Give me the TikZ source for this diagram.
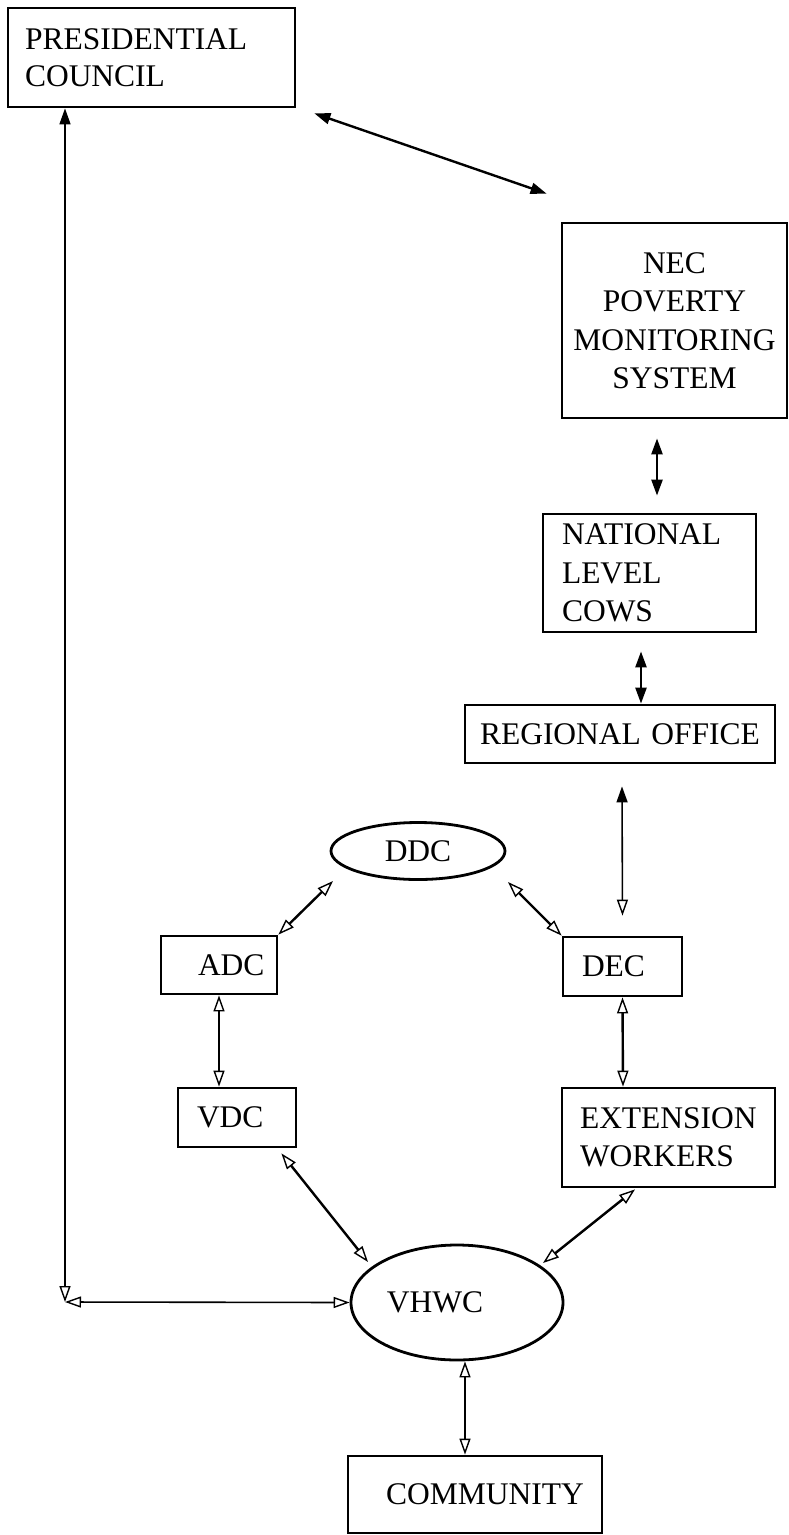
\documentclass[tikz,border=0pt]{standalone}
\usepackage{fontspec}
\setmainfont{Liberation Serif}
\usetikzlibrary{arrows.meta,shapes.geometric,calc}
\tikzset{
  box/.style={draw=black, line width=2.8pt, rectangle, inner ysep=0pt,
    font=\fontsize{31.5}{38.5}\selectfont},
  oval/.style={draw=black, line width=2.8pt, ellipse, inner sep=0pt,
    font=\fontsize{31.5}{38.5}\selectfont},
  dk/.tip={Triangle[length=16pt,width=11pt]},
  op/.tip={Triangle[open,length=16pt,width=11pt,line width=1.4pt]},
  link/.style={draw=black, line width=2.4pt},
  thin link/.style={draw=black, line width=1.6pt},
}
\begin{document}
\begin{tikzpicture}[x=1pt,y=-1pt]
\useasboundingbox (0,0) rectangle (789,1535);
% nodes
\node[box, minimum width=287pt, minimum height=99pt, text width=253pt, inner xsep=17pt, align=left] (pc) at (151.5,57.5) {PRESIDENTIAL\\[-1pt]COUNCIL};
\node[box, minimum width=225pt, minimum height=195pt, text width=219pt, inner xsep=3pt, align=center] (nec) at (674.5,320.5) {NEC\\POVERTY\\MONITORING\\SYSTEM};
\node[box, minimum width=213pt, minimum height=118pt, text width=175pt, inner xsep=19pt, align=left] (nat) at (649.5,573) {NATIONAL\\LEVEL\\COWS};
\node[box, minimum width=310pt, minimum height=58pt, text width=304pt, inner xsep=3pt, align=center] (reg) at (620,734) {REGIONAL OFFICE};
\node[oval, minimum width=174pt, minimum height=57pt] (ddc) at (418,851) {DDC};
\node[box, minimum width=119pt, minimum height=59pt, text width=81pt, inner xsep=19pt, align=left] (dec) at (622.5,966.5) {DEC};
\node[box, minimum width=116pt, minimum height=58pt, text width=42pt, inner xsep=37pt, align=left] (adc) at (219,965) {ADC};
\node[box, minimum width=118pt, minimum height=59pt, text width=80pt, inner xsep=19pt, align=left] (vdc) at (237,1117.5) {VDC};
\node[box, minimum width=213pt, minimum height=99pt, text width=177pt, inner xsep=18pt, align=left] (ext) at (668.5,1137.5) {EXTENSION\\WORKERS};
\node[oval, minimum width=212pt, minimum height=115pt] (vhwc) at (457,1302.5) {\hbox{VHWC\kern44pt}};
\node[box, minimum width=254pt, minimum height=77pt, text width=240pt, inner xsep=7pt, align=center] (comm) at (475,1494.5) {\hspace{20pt}COMMUNITY};
\coordinate (corner) at (65,1302);
% connectors
\draw[link, dk-dk] ($(pc.south east)+(18,5)$) -- ($(nec.north west)+(-14,-28)$);
\draw[link, dk-dk] ($(nec.south)+(-17.5,19)$) -- ($(nat.north)+(7.5,-17)$);
\draw[link, dk-dk] ($(nat.south)+(-8.5,18)$) -- ($(reg.north)+(21,0)$);
\draw[thin link, dk-op] ($(reg.south)+(2,22)$) -- ($(dec.north)+(0,-20)$);
\draw[link, op-op] ($(ddc.center)+(90,31)$) -- (dec.north west);
\draw[link, op-op] (adc.north east) -- ($(ddc.center)+(-85,30)$);
\draw[link, op-op] (adc.south) -- ($(vdc.north)+(-18,0)$);
\draw[link, op-op] ($(vdc.south east)+(-16,5)$) -- ($(vhwc.center)+(-89,-40.5)$);
\draw[link, op-op] (dec.south) -- ($(ext.north)+(-45.5,0)$);
\draw[link, op-op] ($(ext.south)+(-33.5,1)$) -- ($(vhwc.center)+(86,-39.5)$);
\draw[thin link, dk-op] ($(pc.south)+(-86.5,0)$) -- (corner);
\draw[thin link, op-op] (corner) -- (vhwc.west);
\draw[thin link, op-op] ($(vhwc.south)+(8,0)$) -- ($(comm.north)+(-10,0)$);
\end{tikzpicture}
\end{document}
